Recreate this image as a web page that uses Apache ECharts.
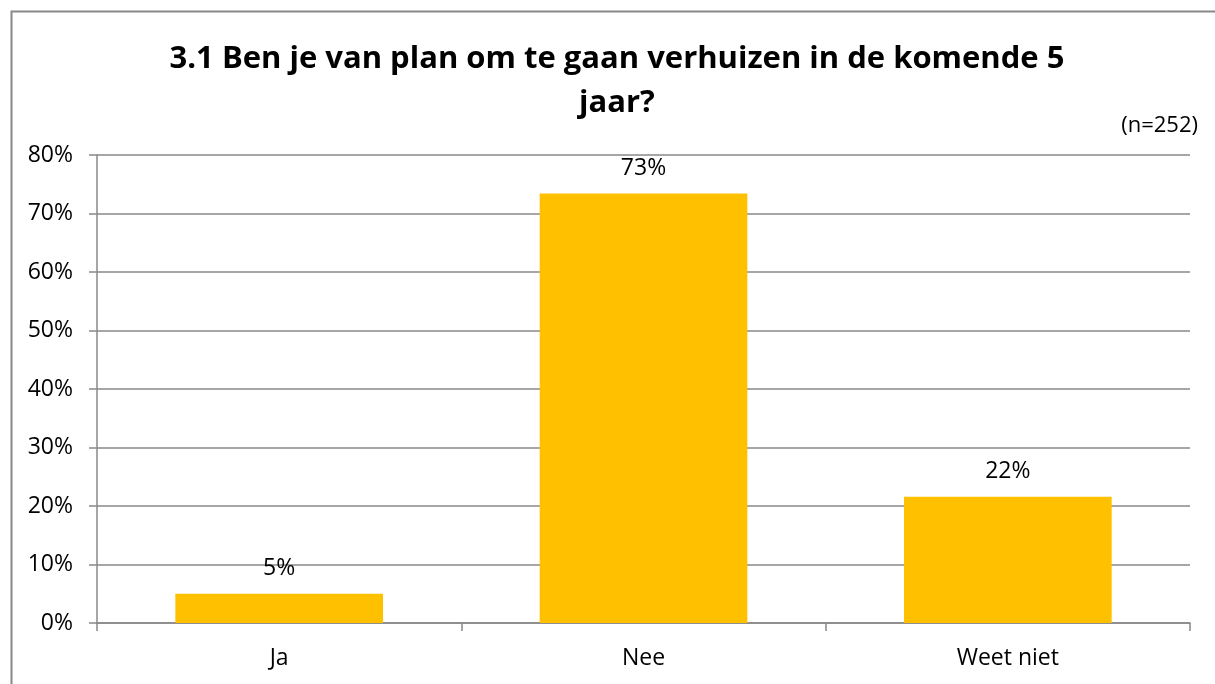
<!DOCTYPE html>
<html><head><meta charset="utf-8">
<script src="https://cdn.jsdelivr.net/npm/echarts@6/dist/echarts.min.js"></script>
<style>html,body{margin:0;padding:0;background:#fff}#c{width:1215px;height:684px}</style>
</head><body><div id="c"></div>
<script>
var categories = ['Ja', 'Nee', 'Weet niet'];
var values = [5.0, 73.4, 21.6];
var labels = ['5%', '73%', '22%'];
var yTicks = [0, 10, 20, 30, 40, 50, 60, 70, 80];

var chart = echarts.init(document.getElementById('c'));
var font = 'Open Sans';
chart.setOption({
  animation: false,
  backgroundColor: '#fff',
  graphic: [{
    type: 'rect', left: 9, top: 9,
    shape: {width: 1215, height: 700},
    style: {fill: 'none', stroke: '#888', lineWidth: 2}
  }, {
    type: 'text', right: 17, top: 115,
    style: {text: '(n=252)', font: '22px "Open Sans"', fill: '#000'}
  }],
  title: {
    text: '3.1 Ben je van plan om te gaan verhuizen in de komende 5\njaar?',
    left: 612, textAlign: 'center', top: 32,
    textStyle: {fontFamily: font, fontWeight: 'bold', fontSize: 31, lineHeight: 44, color: '#000'}
  },
  grid: {left: 97, right: 25, top: 155, bottom: 61},
  xAxis: {
    type: 'category', data: categories,
    axisLine: {lineStyle: {color: '#888', width: 1.5}},
    axisTick: {show: true, length: 8, lineStyle: {color: '#888', width: 1.5}},
    axisLabel: {fontFamily: font, fontSize: 23, color: '#000', margin: 24}
  },
  yAxis: {
    type: 'value', min: 0, max: 80, interval: 10,
    axisLine: {show: true, lineStyle: {color: '#888', width: 1.5}},
    axisTick: {show: true, length: 8, lineStyle: {color: '#888', width: 1.5}},
    splitLine: {lineStyle: {color: '#888', width: 1.5}},
    axisLabel: {fontFamily: font, fontSize: 23, color: '#000', margin: 24,
      formatter: function (v) { return yTicks.indexOf(v) >= 0 ? v + '%' : ''; }}
  },
  series: [{
    type: 'bar', data: values, barCategoryGap: '43%',
    itemStyle: {color: '#FFC000'},
    label: {show: true, position: 'top', distance: 14,
      fontFamily: font, fontSize: 23, color: '#000',
      formatter: function (p) { return labels[p.dataIndex]; }}
  }]
});
</script></body></html>
